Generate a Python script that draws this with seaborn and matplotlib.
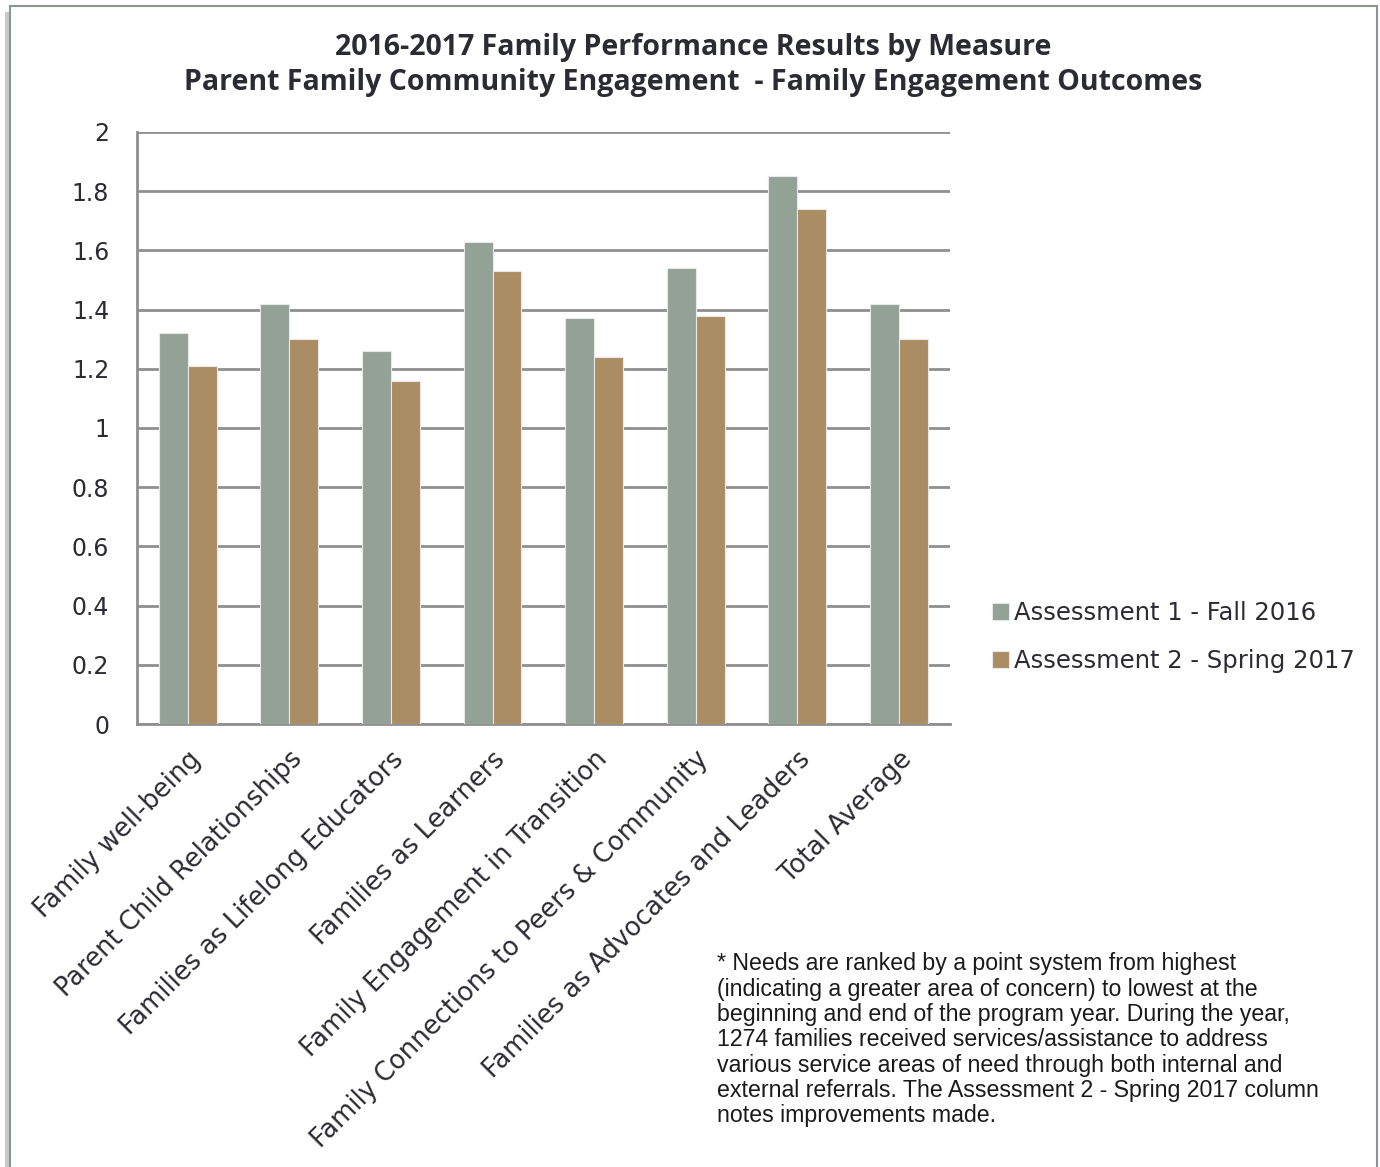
import matplotlib
matplotlib.use("Agg")
import matplotlib.pyplot as plt
import seaborn as sns
import pandas as pd
from matplotlib.patches import Rectangle

measures = [
    "Family well-being",
    "Parent Child Relationships",
    "Families as Lifelong Educators",
    "Families as Learners",
    "Family Engagement in Transition",
    "Family Connections to Peers & Community",
    "Families as Advocates and Leaders",
    "Total Average",
]
fall_2016 = [1.32, 1.42, 1.26, 1.63, 1.37, 1.54, 1.85, 1.42]
spring_2017 = [1.21, 1.30, 1.16, 1.53, 1.24, 1.38, 1.74, 1.30]
series = ["Assessment 1 - Fall 2016", "Assessment 2 - Spring 2017"]
y_ticks = [0, 0.2, 0.4, 0.6, 0.8, 1, 1.2, 1.4, 1.6, 1.8, 2]
y_labels = ["0", "0.2", "0.4", "0.6", "0.8", "1", "1.2", "1.4", "1.6", "1.8", "2"]

title = ("2016-2017 Family Performance Results by Measure\n"
         "Parent Family Community Engagement  - Family Engagement Outcomes")
note = ("* Needs are ranked by a point system from highest\n"
        "(indicating a greater area of concern) to lowest at the\n"
        "beginning and end of the program year. During the year,\n"
        "1274 families received services/assistance to address\n"
        "various service areas of need through both internal and\n"
        "external referrals. The Assessment 2 - Spring 2017 column\n"
        "notes improvements made.")


def main():
    df = pd.DataFrame({
        "measure": measures * 2,
        "value": fall_2016 + spring_2017,
        "assessment": [series[0]] * len(measures) + [series[1]] * len(measures),
    })

    sns.set_style("white")
    plt.rcParams["font.family"] = ["DejaVu Sans"]
    plt.rcParams["font.sans-serif"] = ["DejaVu Sans"]
    grid_col = "#8f8f8f"
    text_col = "#2b2b33"

    fig = plt.figure(figsize=(13.8, 11.67), dpi=100)
    ax = fig.add_axes([0.0993, 0.3796, 0.5888, 0.5073])

    palette = {series[0]: "#93a197", series[1]: "#ab8d64"}
    sns.barplot(data=df, x="measure", y="value", hue="assessment", order=measures,
                hue_order=series, palette=palette, width=0.57, saturation=1,
                edgecolor="#e8e8e8", linewidth=0.8, ax=ax, zorder=3)

    ax.set_ylim(0, 2)
    ax.set_xlim(-0.5, len(measures) - 0.5)
    ax.set_yticks(y_ticks)
    ax.set_yticklabels(y_labels)
    ax.yaxis.grid(True, color=grid_col, linewidth=2, zorder=0)
    ax.set_axisbelow(True)
    ax.set_xlabel("")
    ax.set_ylabel("")
    ax.tick_params(axis="y", length=0, labelsize=17, colors=text_col, pad=20)
    ax.tick_params(axis="x", length=0, labelsize=18.5, colors=text_col, pad=16)
    for lab in ax.get_xticklabels():
        lab.set_rotation(45)
        lab.set_ha("right")
        lab.set_va("top")
        lab.set_rotation_mode("anchor")
    for side in ["top", "right"]:
        ax.spines[side].set_visible(False)
    for side in ["left", "bottom"]:
        ax.spines[side].set_color(grid_col)
        ax.spines[side].set_linewidth(2)

    ax.legend(loc="center left", bbox_to_anchor=(1.025, 0.147), frameon=False,
              fontsize=17.5, labelcolor=text_col, handlelength=0.7, handleheight=0.7,
              handletextpad=0.2, labelspacing=1.0)

    fig.text(0.502, 0.972, title, ha="center", va="top", fontsize=20.5,
             fontweight="bold", color=text_col, linespacing=1.3,
             family=["Open Sans", "DejaVu Sans"])
    fig.text(0.5196, 0.184, note, ha="left", va="top", fontsize=16.7,
             color="#1a1a1a", linespacing=1.13,
             family=["Liberation Sans", "DejaVu Sans"])

    # outer frame with slight shadow
    fig.patches.append(Rectangle((0.0035, -0.01), 0.0045, 1.0, transform=fig.transFigure,
                                 facecolor="#c8c8c8", edgecolor="none", zorder=0))
    fig.patches.append(Rectangle((0.0075, -0.01), 0.99, 1.005, transform=fig.transFigure,
                                 facecolor="none", edgecolor="#8a968e", linewidth=1.5, zorder=1))

    fig.savefig("out.png", dpi=100)
    plt.close(fig)


if __name__ == "__main__":
    main()
